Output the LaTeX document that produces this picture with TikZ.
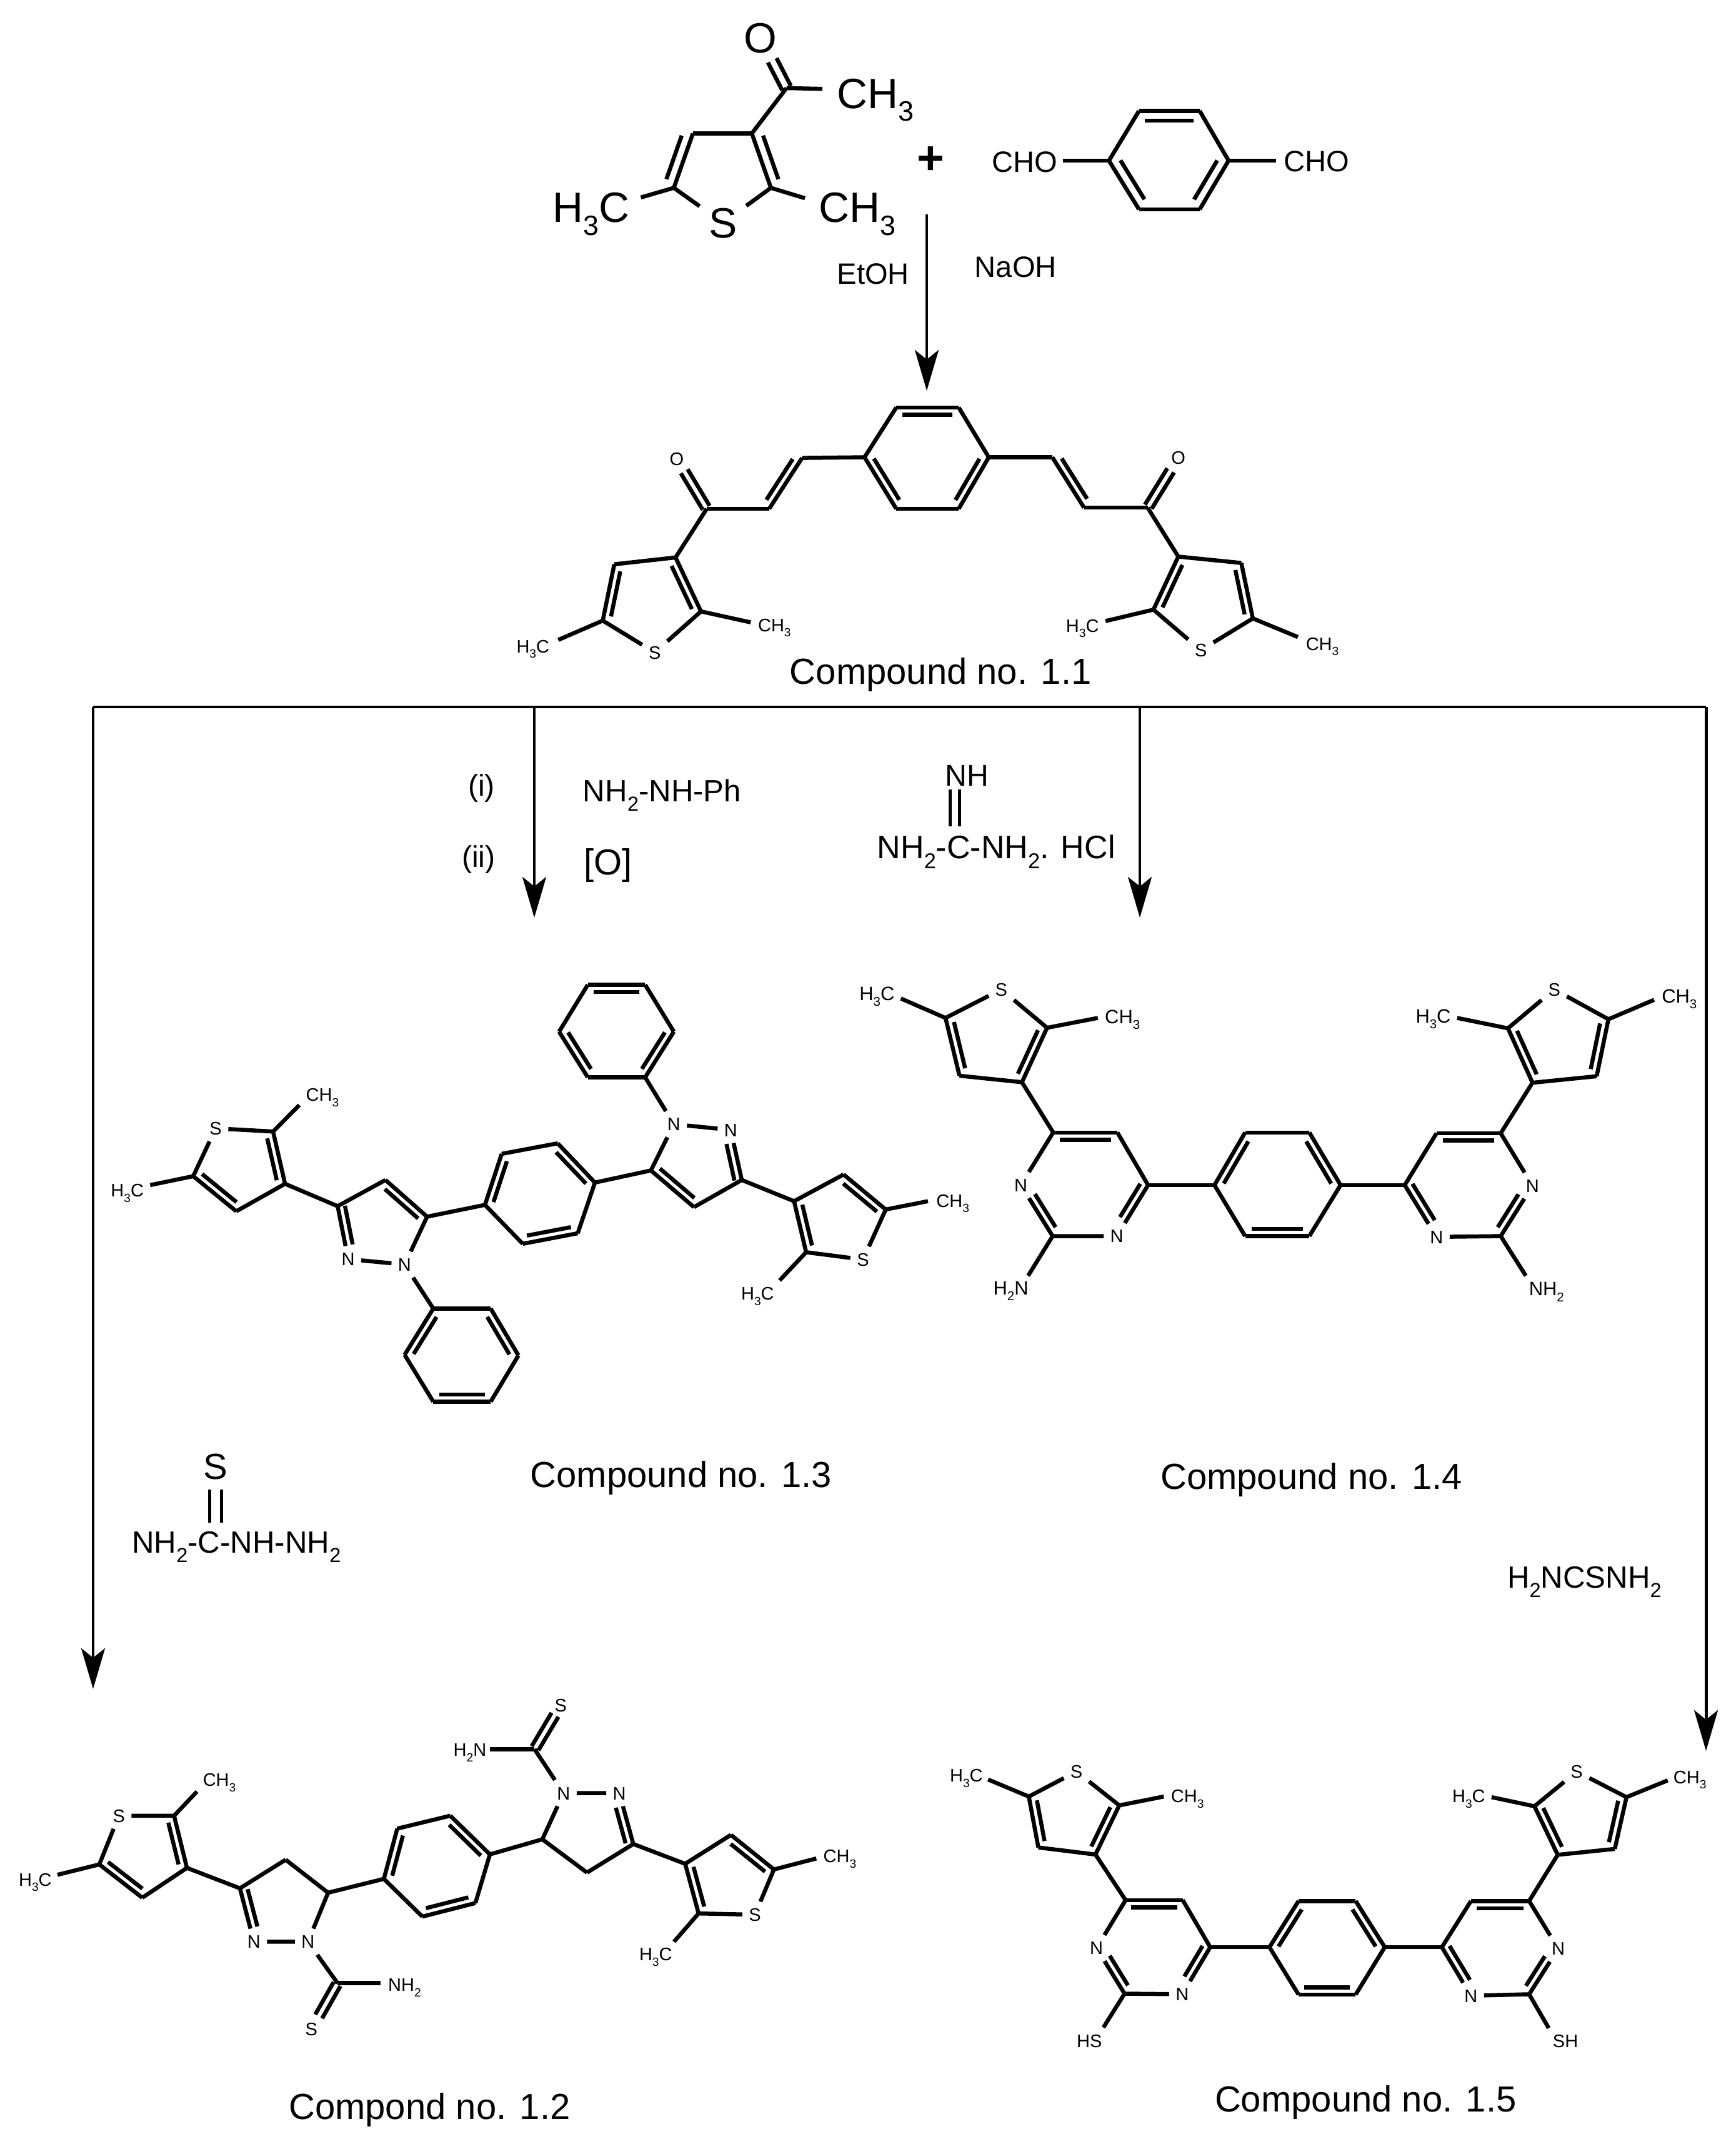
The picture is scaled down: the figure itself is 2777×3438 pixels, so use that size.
\documentclass[tikz,border=0pt]{standalone}
\usepackage{fontspec}
\setmainfont{Liberation Sans}
\usetikzlibrary{calc,arrows.meta}
\newcommand\mkfont[2]{\tikzset{#1/.style={font=\fontsize{#2}{#2}\selectfont,text height=0.716*#2pt,text depth=0pt,inner sep=0pt}}}
\mkfont{f66}{19.3}
\mkfont{f46}{13.4}
\mkfont{f58}{16.5}
\mkfont{f29}{8.25}
\mkfont{f31}{8.8}
\mkfont{f48}{13.7}
\mkfont{f52}{14.8}
\mkfont{f47}{14}
\mkfont{f49}{14}
\tikzset{
  bond/.style={line width=1.85pt,line cap=butt,line join=round},
  flow/.style={line width=1.4pt},
  flowhead/.style={flow,-{Stealth[length=18.5pt,width=10.8pt,inset=4.3pt]}},
  atom/.style={f29,inner sep=2.8pt},
  bigatom/.style={f66,inner sep=4pt}
}
\newcommand\sbx[1]{\smash{\raisebox{-.3em}{\scalebox{.66}{#1}}}}
\def\inoff{3.3pt}
\def\symoff{1.8pt}
\newcommand\dbx[4]{\draw[bond] (#1)--(#2);
  \draw[bond,reset cm] ($(#1)!#3!(#2)!\inoff!-90:(#2)$)--($(#1)!#4!(#2)!\inoff!-90:(#2)$);}
\newcommand\dbl[2]{\dbx{#1}{#2}{.1}{.9}}
\newcommand\dbs[4]{\draw[bond,reset cm] ($(#1)!#3!(#2)!\symoff!90:(#2)$)--($(#1)!#4!(#2)!\symoff!90:(#2)$);
  \draw[bond,reset cm] ($(#1)!#3!(#2)!\symoff!-90:(#2)$)--($(#1)!#4!(#2)!\symoff!-90:(#2)$);}
\newcommand\sgl[1]{\foreach \pa/\pb in {#1} {\draw[bond] (\pa)--(\pb);}}
\newcommand\pts[1]{\foreach \n/\xx/\yy in {#1} {\coordinate (\n) at (\xx,\yy);}}
\begin{document}
\begin{tikzpicture}[x=0.1mm,y=-0.1mm]
\fill[white] (0,0) rectangle (2777,3438);
\useasboundingbox (0,0) rectangle (2777,3438);

% ---------- flow lines ----------
\pts{F0/149/1131,F1/855/1131,F2/1824/1131,F3/2730/1131,
     Ft/149/2702,Ftb/855/1468,Ftc/1824/1468,Ftd/2730/2801,
     Ga/1483/343,Gb/1483/625}
\draw[flow] (F0)--(F3);
\draw[flowhead] (F0)--(Ft);
\draw[flowhead] (F1)--(Ftb);
\draw[flowhead] (F2)--(Ftc);
\draw[flowhead] (F3)--(Ftd);
\draw[flowhead] (Ga)--(Gb);

% ---------- reactants (zoom 1) ----------
\begin{scope}[shift={(750,0)},xscale={1450/1568},yscale={650/1568}]
\def\inoff{4.5pt}\def\symoff{2.2pt}
\node[f66] (TO) at (505,145) {O};
\node[bigatom] (TS) at (440,860) {S};
\node[f66,anchor=west] (TCa) at (637,360) {CH\sbx{3}};
\node[f66,anchor=west] (TCb) at (605,800) {CH\sbx{3}};
\node[f66,anchor=west] (TCc) at (145,800) {H\sbx{3}C};
\node[font=\fontsize{21.3}{22}\selectfont\bfseries,inner sep=0pt] (Tplus) at (800,620) {+};
\node[f46,anchor=west] (TCHOa) at (905,625) {CHO};
\node[f46,anchor=west] (TCHOb) at (1410,622) {CHO};
\node[f46,anchor=west] (TEt) at (637,1055) {EtOH};
\node[f46,anchor=west] (TNa) at (875,1030) {NaOH};
\pts{Ta/490/515,Tb/388/515,Tc/355/725,Td/523/725,Te/550/340,
     Tf/612/343,Tg/298/762,Th/582/765,
     Pa/1160/428,Pb/1265/428,Pc/1315/620,Pd/1265/808,Pe/1160/808,Pf/1108/620,
     Pg/1028/620,Ph/1397/620}
\sgl{Ta/Tb,Ta/Te,Te/Tf,Tc/Tg,Td/Th,Tc/TS,Td/TS,Pb/Pc,Pd/Pe,Pf/Pa,Pf/Pg,Pc/Ph}
\dbl{Tb}{Tc}
\dbl{Td}{Ta}
\dbs{Te}{TO}{0}{.55}
\dbl{Pa}{Pb}
\dbl{Pc}{Pd}
\dbl{Pe}{Pf}
\end{scope}

% ---------- compound 1.1 (zoom 2) ----------
\begin{scope}[shift={(750,600)},xscale={1450/1568},yscale={550/1568}]
\node[f29] (AOa) at (360,382) {O};
\node[f29] (AOb) at (1228,378) {O};
\node[atom] (ASa) at (322,1265) {S};
\node[atom] (ASb) at (1267,1255) {S};
\node[f29,anchor=west] (ACa) at (500,1140) {CH\sbx{3}};
\node[f29,anchor=west] (ACb) at (82,1237) {H\sbx{3}C};
\node[f29,anchor=west] (ACc) at (1033,1143) {H\sbx{3}C};
\node[f29,anchor=west] (ACd) at (1448,1225) {CH\sbx{3}};
\node[f58,anchor=west] (Acap) at (555,1350) {Compound no. 1.1};
\pts{Aa/740/148,Ab/848/148,Ac/900/375,Ad/848/610,Ae/740/610,Af/685/375,
     Ag/577/378,Ah/520/610,Ai/412/610,Aj/358/832,Ak/252/863,Al/232/1120,Am/402/1078,
     An/488/1128,Ao/155/1208,
     Ap/1010/375,Aq/1065/605,Ar/1175/605,As/1228/828,At/1337/857,Au/1357/1110,Av/1185/1070,
     Aw/1102/1122,Ax/1435/1195}
\sgl{Ab/Ac,Ad/Ae,Af/Aa,Af/Ag,Ah/Ai,Ai/Aj,Aj/Ak,Am/ASa,Al/ASa,Am/An,Al/Ao,
     Ac/Ap,Aq/Ar,Ar/As,As/At,Av/ASb,Au/ASb,Av/Aw,Au/Ax}
\dbl{Aa}{Ab}
\dbl{Ac}{Ad}
\dbl{Ae}{Af}
\dbl{Ag}{Ah}
\dbl{Aq}{Ap}
\dbs{Ai}{AOa}{.02}{.75}
\dbs{Ar}{AOb}{.02}{.75}
\dbl{Aj}{Am}
\dbl{Al}{Ak}
\dbl{Av}{As}
\dbl{At}{Au}
\end{scope}

% ---------- reagents (zoom 7) ----------
\begin{scope}[shift={(100,1050)},xscale={1800/1568},yscale={1/3}]
\node[f48] (Ri) at (584,620) {(i)};
\node[f48] (Rii) at (580,960) {(ii)};
\node[f49,anchor=west] (Rph) at (725,645) {NH\sbx{2}-NH-Ph};
\node[f58,anchor=west] (Rox) at (726,985) {[O]};
\node[f48,anchor=west] (Rnh) at (1230,572) {NH};
\node[f52,anchor=west] (Rgu) at (1135,915) {NH\sbx{2}-C-NH\sbx{2}. HCl};
\pts{Rga/1237/640,Rgb/1237/815,Rgc/1250/640,Rgd/1250/815}
\draw[flow] (Rga)--(Rgb);
\draw[flow] (Rgc)--(Rgd);
\end{scope}

% ---------- reagent (zoom 8) ----------
\begin{scope}[shift={(100,2250)},xscale={700/1568},yscale={1/3}]
\node[f58] (RS) at (548,288) {S};
\node[f47,anchor=west] (Rsc) at (248,650) {NH\sbx{2}-C-NH-NH\sbx{2}};
\pts{Rsa/527/400,Rsb/527/557,Rsd/570/400,Rse/570/557}
\draw[flow] (Rsa)--(Rsb);
\draw[flow] (Rsd)--(Rse);
\end{scope}

% ---------- captions (zoom 10) ----------
\begin{scope}[shift={(800,2250)},xscale={1977/1568},yscale={1/3}]
\node[f58,anchor=west] (Bcap) at (38,325) {Compound no. 1.3};
\node[f58,anchor=west] (Ccap) at (838,335) {Compound no. 1.4};
\node[f49,anchor=west] (Rtu) at (1278,818) {H\sbx{2}NCSNH\sbx{2}};
\end{scope}

% ---------- compound 1.3 (zoom 3) ----------
\begin{scope}[shift={(150,1500)},xscale={1200/1568},yscale={800/1568}]
\node[atom] (BSa) at (255,598) {S};
\node[atom] (BNa) at (532,1008) {N};
\node[atom] (BNb) at (650,1025) {N};
\node[atom] (BNc) at (1213,585) {N};
\node[atom] (BNd) at (1332,603) {N};
\node[f29,anchor=west] (BCa) at (443,493) {CH\sbx{3}};
\node[f29,anchor=west] (BCb) at (35,792) {H\sbx{3}C};
\pts{Ba/375/608,Bb/400/772,Bc/298/858,Bd/208/748,Be/430/525,Bf/118/776,
     Bg/510/842,Bh/610/760,Bi/697/875,
     Bj/710/1163,Bk/830/1163,Bl/888/1310,Bm/830/1455,Bn/710/1455,Bo/650/1308,
     Bp/818/838,Bq/853/678,Br/970/645,Bs/1048/768,Bt/1012/927,Bu/897/960,
     Bv/1165/730,Bw/1355/760,Bx/1255/845,
     By/1153/438,Bz/1033/438,BA/973/295,BB/1033/148,BC/1153/148,BD/1213/295}
\sgl{BSa/Ba,Bb/Bc,Bd/BSa,Ba/Be,Bd/Bf,Bb/Bg,Bg/Bh,Bi/BNb,BNa/BNb,BNb/Bj,
     Bj/Bk,Bl/Bm,Bn/Bo,Bi/Bp,Bq/Br,Bs/Bt,Bu/Bp,Bs/Bv,Bv/BNc,BNc/BNd,Bw/Bx,
     BNc/By,By/Bz,BA/BB,BC/BD}
\dbl{Ba}{Bb}
\dbl{Bc}{Bd}
\dbx{BNa}{Bg}{.25}{.98}
\dbl{Bh}{Bi}
\dbl{Bk}{Bl}
\dbl{Bm}{Bn}
\dbl{Bo}{Bj}
\dbl{Bp}{Bq}
\dbl{Br}{Bs}
\dbl{Bt}{Bu}
\dbx{BNd}{Bw}{.25}{.98}
\dbl{Bx}{Bv}
\dbl{BB}{BC}
\dbl{BD}{By}
\dbl{Bz}{BA}
\end{scope}
\begin{scope}[shift={(1200,1800)},xscale={1/3},yscale={1/3}]
\node[atom] (BSb) at (543,645) {S};
\node[f29,anchor=west] (BCc) at (893,362) {CH\sbx{3}};
\node[f29,anchor=east] (BCd) at (118,808) {H\sbx{3}C};
\pts{Ca/212/365,Cb/450/237,Cc/652/405,Cd/270/610,Ce/855/365,Cf/143/745}
\sgl{Bw/Ca,Ca/Cb,Cc/BSb,Cd/BSb,Cc/Ce,Cd/Cf}
\dbl{Cd}{Ca}
\dbl{Cb}{Cc}
\end{scope}

% ---------- compound 1.4 (zoom 4) ----------
\begin{scope}[shift={(1330,1500)},xscale={1400/1568},yscale={650/1568}]
\node[atom] (DSa) at (305,200) {S};
\node[atom] (DSb) at (1296,200) {S};
\node[atom] (DNa) at (512,1152) {N};
\node[atom] (DNb) at (340,955) {N};
\node[atom] (DNc) at (1257,957) {N};
\node[atom] (DNd) at (1085,1155) {N};
\node[f31,anchor=west] (DCa) at (50,215) {H\sbx{3}C};
\node[f31,anchor=west] (DCb) at (490,305) {CH\sbx{3}};
\node[f31,anchor=west] (DCc) at (1047,302) {H\sbx{3}C};
\node[f31,anchor=west] (DCd) at (1488,225) {CH\sbx{3}};
\node[f31,anchor=west] (DCe) at (290,1352) {H\sbx{2}N};
\node[f31,anchor=west] (DCf) at (1250,1355) {NH\sbx{2}};
\pts{Da/205/310,Db/230/533,Dc/342/558,Dd/387/348,De/125/235,Df/478/310,
     Dg/398/752,Dh/513/752,Di/568/955,Dj/397/1152,Dk/353/1305,
     Dl/687/955,Dm/742/752,Dn/857/752,Do/913/955,Dp/857/1152,Dq/742/1152,
     Dr/1028/955,Ds/1085/755,Dt/1200/755,Du/1200/1152,Dv/1245/1305,
     Dw/1257/560,Dx/1372/535,Dy/1393/315,Dz/1213/350,DA/1122/310,DB/1475/240}
\sgl{Db/Dc,Da/DSa,Dd/DSa,Da/De,Dd/Df,Dc/Dg,Dh/Di,DNa/Dj,DNb/Dg,Dj/Dk,Di/Dl,
     Dm/Dn,Do/Dp,Dq/Dl,Do/Dr,Dr/Ds,Dt/DNc,Du/DNd,Du/Dv,Dt/Dw,Dw/Dx,
     Dz/DSb,Dy/DSb,Dz/DA,Dy/DB}
\dbl{Db}{Da}
\dbl{Dd}{Dc}
\dbl{Dg}{Dh}
\dbx{Di}{DNa}{.05}{.7}
\dbx{Dj}{DNb}{.1}{.75}
\dbl{Dl}{Dm}
\dbl{Dn}{Do}
\dbl{Dp}{Dq}
\dbl{Ds}{Dt}
\dbx{DNc}{Du}{.25}{.9}
\dbx{DNd}{Dr}{.25}{.95}
\dbl{Dw}{Dz}
\dbl{Dy}{Dx}
\end{scope}

% ---------- compound 1.2 (zoom 5) ----------
\begin{scope}[shift={(0,2650)},xscale={1400/1568},yscale={788/1568}]
\node[atom] (HSa) at (213,507) {S};
\node[atom] (HNa) at (455,908) {N};
\node[atom] (HNb) at (552,908) {N};
\node[atom] (HNc) at (1010,435) {N};
\node[atom] (HNd) at (1110,435) {N};
\node[atom] (HSb) at (1353,822) {S};
\node[f29] (HSc) at (558,1187) {S};
\node[f29] (HSd) at (1005,155) {S};
\node[f29,anchor=west] (HCa) at (363,392) {CH\sbx{3}};
\node[f29,anchor=west] (HCb) at (33,710) {H\sbx{3}C};
\node[f29,anchor=west] (HCc) at (695,1045) {NH\sbx{2}};
\node[f29,anchor=west] (HCd) at (812,297) {H\sbx{2}N};
\node[f29,anchor=west] (HCe) at (1475,635) {CH\sbx{3}};
\node[f29,anchor=west] (HCf) at (1145,948) {H\sbx{3}C};
\node[f58,anchor=west] (Hcap) at (517,1432) {Compond no. 1.2};
\pts{Ha/312/507,Hb/335/673,Hc/255/768,Hd/178/662,He/353/430,Hf/103/695,
     Hg/430/738,Hh/512/647,Hi/588/752,Hj/605/1040,Hk/682/1040,
     Hl/688/708,Hm/712/548,Hn/807/507,Ho/878/630,Hp/852/785,Hq/757/828,
     Hr/972/582,Hs/1135/597,Ht/1052/688,Hu/958/295,Hv/878/295,
     Hw/1228/660,Hx/1310/568,Hy/1387/678,Hz/1252/818,HA/1463/643,HB/1208/908}
\sgl{HSa/Ha,Hb/Hc,Hd/HSa,Ha/He,Hd/Hf,Hb/Hg,Hg/Hh,Hh/Hi,Hi/HNb,HNa/HNb,HNb/Hj,Hj/Hk,
     Hi/Hl,Hm/Hn,Ho/Hp,Hq/Hl,Ho/Hr,Hr/HNc,HNc/HNd,Hs/Ht,Ht/Hr,HNc/Hu,Hu/Hv,
     Hs/Hw,Hw/Hx,Hy/HSb,HSb/Hz,Hy/HA,Hz/HB}
\dbl{Ha}{Hb}
\dbl{Hc}{Hd}
\dbx{HNa}{Hg}{.25}{.95}
\dbs{Hj}{HSc}{.02}{.72}
\dbl{Hl}{Hm}
\dbl{Hn}{Ho}
\dbl{Hp}{Hq}
\dbx{HNd}{Hs}{.25}{.95}
\dbs{Hu}{HSd}{.02}{.78}
\dbl{Hz}{Hw}
\dbl{Hx}{Hy}
\end{scope}

% ---------- compound 1.5 (zoom 6) ----------
\begin{scope}[shift={(1450,2700)},xscale={1327/1568},yscale={738/1568}]
\node[atom] (JSa) at (322,285) {S};
\node[atom] (JSb) at (1268,285) {S};
\node[atom] (JNa) at (522,1042) {N};
\node[atom] (JNb) at (360,885) {N};
\node[atom] (JNc) at (1233,887) {N};
\node[atom] (JNd) at (1068,1047) {N};
\node[f29,anchor=west] (JCa) at (82,298) {H\sbx{3}C};
\node[f29,anchor=west] (JCb) at (500,368) {CH\sbx{3}};
\node[f29,anchor=west] (JCc) at (1032,368) {H\sbx{3}C};
\node[f29,anchor=west] (JCd) at (1450,303) {CH\sbx{3}};
\node[f29,anchor=west] (JCe) at (322,1200) {HS};
\node[f29,anchor=west] (JCf) at (1222,1200) {SH};
\node[f58,anchor=west] (Jcap) at (583,1398) {Compound no. 1.5};
\pts{Ja/232/370,Jb/250/543,Jc/358/567,Jd/403/400,Je/155/312,Jf/487/370,
     Jg/415/722,Jh/523/722,Ji/575/882,Jj/413/1040,Jk/373/1155,
     Jl/687/882,Jm/742/725,Jn/850/725,Jo/905/882,Jp/850/1043,Jq/742/1043,
     Jr/1013/882,Js/1068/725,Jt/1178/725,Ju/1178/1042,Jv/1215/1157,
     Jw/1232/568,Jx/1340/548,Jy/1362/372,Jz/1188/403,JA/1107/372,JB/1440/315}
\sgl{Jb/Jc,Ja/JSa,Jd/JSa,Ja/Je,Jd/Jf,Jc/Jg,Jh/Ji,JNa/Jj,JNb/Jg,Jj/Jk,Ji/Jl,
     Jm/Jn,Jo/Jp,Jq/Jl,Jo/Jr,Jr/Js,Jt/JNc,Ju/JNd,Ju/Jv,Jt/Jw,Jw/Jx,
     Jz/JSb,Jy/JSb,Jz/JA,Jy/JB}
\dbl{Jb}{Ja}
\dbl{Jd}{Jc}
\dbl{Jg}{Jh}
\dbx{Ji}{JNa}{.05}{.7}
\dbx{Jj}{JNb}{.1}{.75}
\dbl{Jl}{Jm}
\dbl{Jn}{Jo}
\dbl{Jp}{Jq}
\dbl{Js}{Jt}
\dbx{JNc}{Ju}{.25}{.9}
\dbx{JNd}{Jr}{.25}{.95}
\dbl{Jw}{Jz}
\dbl{Jy}{Jx}
\end{scope}
\end{tikzpicture}
\end{document}
